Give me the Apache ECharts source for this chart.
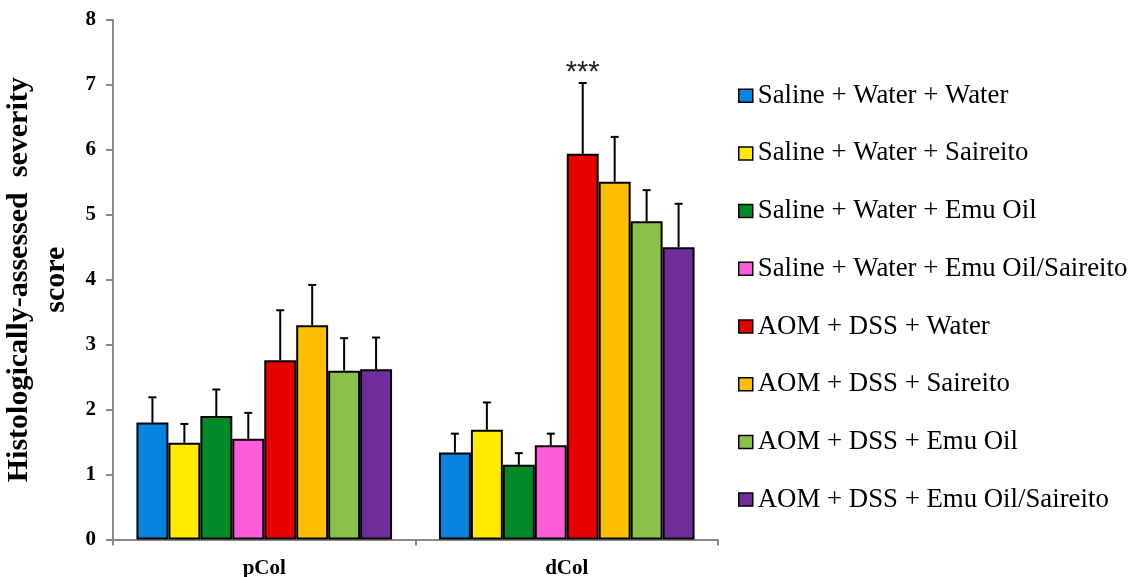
<!DOCTYPE html>
<html>
<head>
<meta charset="utf-8">
<script src="https://cdn.jsdelivr.net/npm/echarts@6/dist/echarts.min.js"></script>
<style>
html,body{margin:0;padding:0;background:#fff;}
#chart{width:1133px;height:577px;}
</style>
</head>
<body>
<div id="chart"></div>
<script>
const categories = ['pCol', 'dCol'];
const groupNames = [
  'Saline + Water + Water',
  'Saline + Water + Saireito',
  'Saline + Water + Emu Oil',
  'Saline + Water + Emu Oil/Saireito',
  'AOM + DSS + Water',
  'AOM + DSS + Saireito',
  'AOM + DSS + Emu Oil',
  'AOM + DSS + Emu Oil/Saireito'
];
const groupColors = ['#0883E0', '#FFEA00', '#008A2A', '#FF5CDB', '#E80000', '#FFBF00', '#8BC04A', '#702E9A'];
const meansPCol = [1.80, 1.49, 1.90, 1.55, 2.76, 3.30, 2.60, 2.62];
const meansDCol = [1.34, 1.69, 1.15, 1.45, 5.94, 5.51, 4.90, 4.50];
const errPCol = [0.39, 0.29, 0.41, 0.40, 0.77, 0.62, 0.50, 0.49];
const errDCol = [0.29, 0.42, 0.18, 0.18, 1.09, 0.69, 0.48, 0.67];
const sigPCol = ['', '', '', '', '', '', '', ''];
const sigDCol = ['', '', '', '', '***', '', '', ''];
const yTicks = [0, 1, 2, 3, 4, 5, 6, 7, 8];

const means = [meansPCol, meansDCol];
const errs = [errPCol, errDCol];
const sigs = [sigPCol, sigDCol];
const catGap = 0.155;
const serif = 'Liberation Serif';

const barSeries = groupNames.map((name, g) => ({
  name: name,
  type: 'bar',
  barGap: 0,
  barCategoryGap: (catGap * 100) + '%',
  itemStyle: { color: groupColors[g], borderColor: '#000', borderWidth: 2 },
  emphasis: { disabled: true },
  data: categories.map((c, ci) => means[ci][g])
}));

const errData = [];
categories.forEach((c, ci) => {
  groupNames.forEach((n, g) => {
    errData.push([ci, g, means[ci][g], means[ci][g] + errs[ci][g], sigs[ci][g]]);
  });
});

const errSeries = {
  type: 'custom',
  silent: true,
  z: 1,
  encode: { x: 0, y: 3 },
  data: errData,
  renderItem: function (params, api) {
    const ci = api.value(0);
    const g = api.value(1);
    const center = api.coord([ci, 0]);
    const band = api.size([1, 0])[0];
    const barW = band * (1 - catGap) / groupNames.length;
    const x = center[0] + (g - (groupNames.length - 1) / 2) * barW;
    const yMean = api.coord([ci, api.value(2)])[1];
    const yTop = api.coord([ci, api.value(3)])[1];
    const cap = 4;
    const children = [
      { type: 'line', shape: { x1: x, y1: yMean, x2: x, y2: yTop }, style: { stroke: '#000', lineWidth: 2 } },
      { type: 'line', shape: { x1: x - cap, y1: yTop, x2: x + cap, y2: yTop }, style: { stroke: '#000', lineWidth: 2 } }
    ];
    const sig = api.value(4);
    if (sig) {
      children.push({
        type: 'text',
        style: { text: sig, x: x, y: yTop - 10, align: 'center', verticalAlign: 'middle',
                 fontSize: 29, fontFamily: 'Liberation Sans', fill: '#222' }
      });
    }
    return { type: 'group', children: children };
  }
};

const chart = echarts.init(document.getElementById('chart'), null, { renderer: 'canvas' });
chart.setOption({
  animation: false,
  backgroundColor: '#fff',
  grid: { left: 113, right: 415, top: 20, bottom: 37.5, containLabel: false, outerBoundsMode: 'none' },
  legend: {
    orient: 'vertical',
    left: 733,
    top: 77.2,
    icon: 'rect',
    itemWidth: 14,
    itemHeight: 13,
    itemGap: 30.7,
    data: groupNames,
    itemStyle: { borderColor: '#000', borderWidth: 1.5 },
    textStyle: { fontFamily: serif, fontSize: 26.8, color: '#000', lineHeight: 27, padding: [0, 0, 0, 0] },
    selectedMode: false
  },
  xAxis: {
    type: 'category',
    data: categories,
    axisLine: { lineStyle: { color: '#888', width: 2 } },
    axisTick: { show: true, length: 6, lineStyle: { color: '#888', width: 2 } },
    axisLabel: { fontFamily: serif, fontWeight: 'bold', fontSize: 21, color: '#000', margin: 19 }
  },
  yAxis: {
    type: 'value',
    min: yTicks[0],
    max: yTicks[yTicks.length - 1],
    interval: 1,
    splitLine: { show: false },
    axisLine: { show: true, lineStyle: { color: '#888', width: 2 } },
    axisTick: { show: true, length: 7, lineStyle: { color: '#888', width: 2 } },
    axisLabel: { fontFamily: serif, fontWeight: 'bold', fontSize: 21, color: '#000', margin: 17 },
    name: 'Histologically-assessed  severity\nscore',
    nameLocation: 'middle',
    nameGap: 35,
    nameTextStyle: { fontFamily: serif, fontWeight: 'bold', fontSize: 30, color: '#000', lineHeight: 37, align: 'center' }
  },
  series: barSeries.concat([errSeries])
});
</script>
</body>
</html>
